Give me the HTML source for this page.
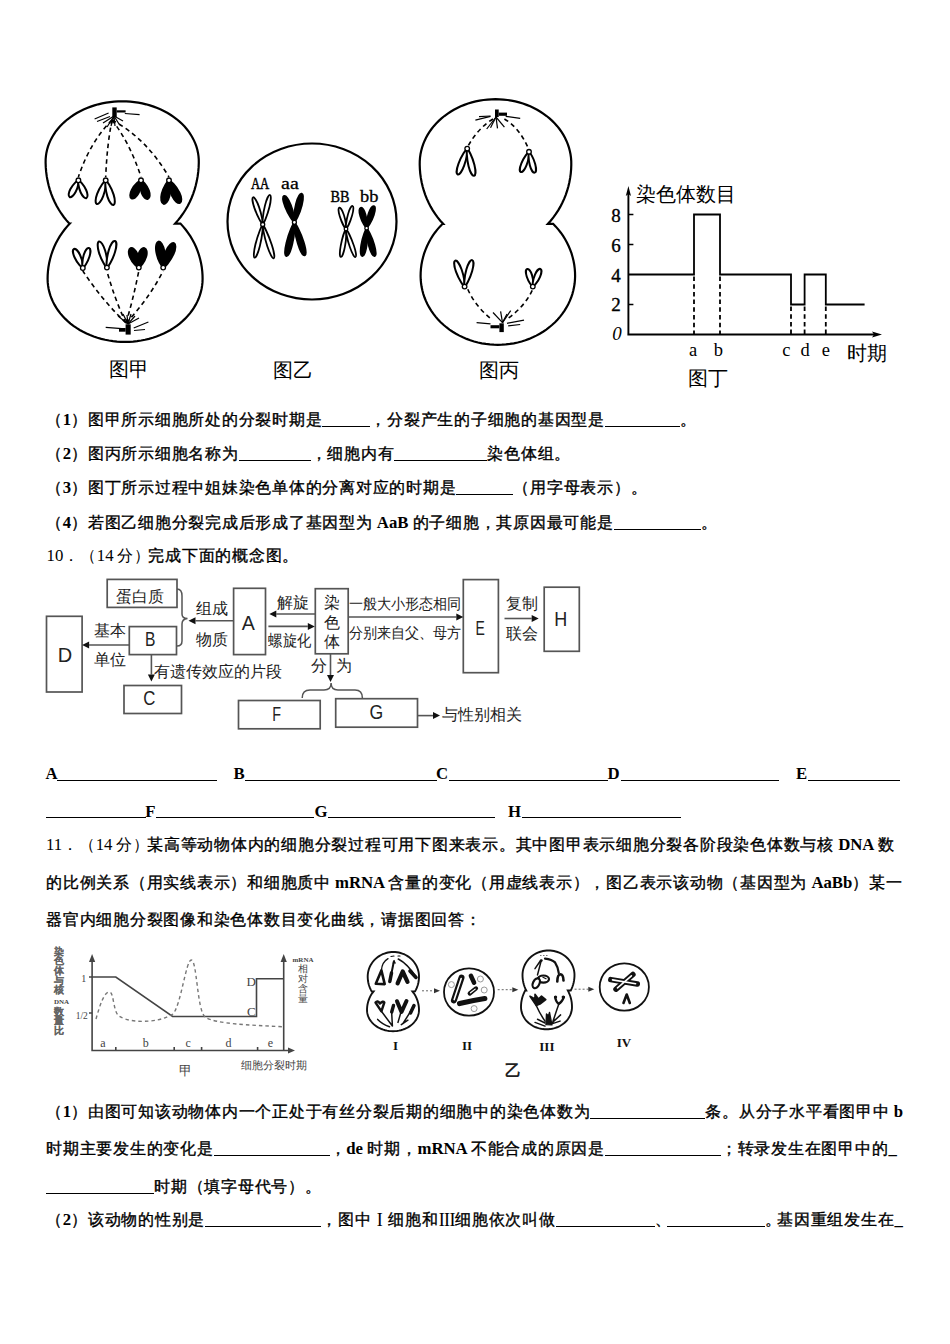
<!DOCTYPE html><html><head><meta charset="utf-8"><title>page</title><style>
html,body{margin:0;padding:0;background:#fff}
body{width:950px;height:1344px;position:relative;overflow:hidden;font-family:"Liberation Serif",serif;color:#000}
.t{position:absolute;left:46px;white-space:nowrap;font-size:16px;letter-spacing:0.75px;line-height:20px;font-weight:normal;-webkit-text-stroke:0.35px #000}
.L{font-size:16.75px;letter-spacing:0;font-weight:bold;-webkit-text-stroke:0}
.n{font-weight:normal;-webkit-text-stroke:0}
.u{display:inline-block;height:16px;border-bottom:1.5px solid #000;vertical-align:-2px;letter-spacing:0}
.j{width:856px;white-space:normal;text-align:justify;text-align-last:justify}
.jn{white-space:nowrap}
.ab{position:absolute;font-size:16.75px;font-weight:bold;line-height:20px}
.ul{position:absolute;height:0;border-top:1.5px solid #000}
svg{position:absolute;left:0;top:0}
.cm{font-family:"Liberation Sans",sans-serif;fill:#222}
</style></head><body><svg width="950" height="1344" viewBox="0 0 950 1344"><path d="M 69.34 223.60 L 66.49 220.38 L 63.79 217.00 L 61.25 213.47 L 58.88 209.78 L 56.69 205.97 L 54.68 202.02 L 52.86 197.97 L 51.24 193.81 L 49.81 189.57 L 48.59 185.24 L 47.57 180.85 L 46.76 176.40 L 46.17 171.92 L 45.78 167.40 L 45.61 162.86 L 45.65 159.27 L 45.91 156.10 L 46.38 152.93 L 47.06 149.80 L 47.95 146.69 L 49.05 143.63 L 50.36 140.61 L 51.86 137.66 L 53.57 134.77 L 55.46 131.95 L 57.54 129.22 L 59.80 126.58 L 62.24 124.04 L 64.84 121.60 L 67.61 119.27 L 70.52 117.06 L 73.58 114.98 L 76.78 113.02 L 80.11 111.20 L 83.55 109.53 L 87.10 107.99 L 90.75 106.61 L 94.48 105.38 L 98.30 104.31 L 102.18 103.39 L 106.12 102.64 L 110.10 102.06 L 114.11 101.64 L 118.15 101.38 L 122.20 101.30 L 126.25 101.38 L 130.29 101.64 L 134.30 102.06 L 138.28 102.64 L 142.22 103.39 L 146.10 104.31 L 149.92 105.38 L 153.65 106.61 L 157.30 107.99 L 160.85 109.53 L 164.29 111.20 L 167.62 113.02 L 170.82 114.98 L 173.88 117.06 L 176.79 119.27 L 179.56 121.60 L 182.16 124.04 L 184.60 126.58 L 186.86 129.22 L 188.94 131.95 L 190.83 134.77 L 192.54 137.66 L 194.04 140.61 L 195.35 143.63 L 196.45 146.69 L 197.34 149.80 L 198.02 152.93 L 198.49 156.10 L 198.75 159.27 L 198.79 162.86 L 198.62 167.40 L 198.23 171.92 L 197.64 176.40 L 196.83 180.85 L 195.81 185.24 L 194.59 189.57 L 193.16 193.81 L 191.54 197.97 L 189.72 202.02 L 187.71 205.97 L 185.52 209.78 L 183.15 213.47 L 180.61 217.00 L 177.91 220.38 L 175.06 223.60 L 180.44 223.60 L 183.19 226.60 L 185.78 229.75 L 188.21 233.03 L 190.47 236.43 L 192.55 239.95 L 194.45 243.57 L 196.16 247.29 L 197.67 251.09 L 198.99 254.97 L 200.11 258.91 L 201.02 262.91 L 201.73 266.95 L 202.23 271.02 L 202.52 275.11 L 202.60 279.11 L 202.47 282.41 L 202.12 285.69 L 201.57 288.95 L 200.81 292.19 L 199.85 295.39 L 198.68 298.54 L 197.31 301.64 L 195.75 304.68 L 193.99 307.65 L 192.05 310.54 L 189.92 313.34 L 187.62 316.05 L 185.15 318.66 L 182.51 321.15 L 179.72 323.54 L 176.78 325.80 L 173.70 327.93 L 170.49 329.93 L 167.15 331.79 L 163.70 333.50 L 160.15 335.07 L 156.50 336.48 L 152.76 337.74 L 148.95 338.83 L 145.08 339.76 L 141.15 340.53 L 137.17 341.13 L 133.17 341.56 L 129.14 341.81 L 125.10 341.90 L 121.06 341.81 L 117.03 341.56 L 113.03 341.13 L 109.05 340.53 L 105.12 339.76 L 101.25 338.83 L 97.44 337.74 L 93.70 336.48 L 90.05 335.07 L 86.50 333.50 L 83.05 331.79 L 79.71 329.93 L 76.50 327.93 L 73.42 325.80 L 70.48 323.54 L 67.69 321.15 L 65.05 318.66 L 62.58 316.05 L 60.28 313.34 L 58.15 310.54 L 56.21 307.65 L 54.45 304.68 L 52.89 301.64 L 51.52 298.54 L 50.35 295.39 L 49.39 292.19 L 48.63 288.95 L 48.08 285.69 L 47.73 282.41 L 47.60 279.11 L 47.68 275.11 L 47.97 271.02 L 48.47 266.95 L 49.18 262.91 L 50.09 258.91 L 51.21 254.97 L 52.53 251.09 L 54.04 247.29 L 55.75 243.57 L 57.65 239.95 L 59.73 236.43 L 61.99 233.03 L 64.42 229.75 L 67.01 226.60 L 69.76 223.60 Z" fill="none" stroke="#000" stroke-width="2.2" stroke-linejoin="miter"/><rect x="112.3" y="107.4" width="4.4" height="9.6" fill="#000"/><rect x="116.7" y="110.3" width="8.9" height="2.2" fill="#000"/><line x1="94.6" y1="119" x2="108.6" y2="113" stroke="#000" stroke-width="1.2"/><line x1="97" y1="121.5" x2="110" y2="116.5" stroke="#000" stroke-width="1.2"/><line x1="124.8" y1="113.5" x2="139.6" y2="114.7" stroke="#000" stroke-width="1.2"/><line x1="114" y1="116" x2="103" y2="123" stroke="#000" stroke-width="1.2"/><line x1="114" y1="116" x2="107" y2="127" stroke="#000" stroke-width="1.2"/><line x1="114" y1="116" x2="111" y2="126" stroke="#000" stroke-width="1.2"/><line x1="114" y1="116" x2="115" y2="126" stroke="#000" stroke-width="1.2"/><line x1="114" y1="116" x2="119" y2="124" stroke="#000" stroke-width="1.2"/><line x1="114" y1="116" x2="123" y2="121" stroke="#000" stroke-width="1.2"/><rect x="125.6" y="324.3" width="5.1" height="10.3" fill="#000"/><rect x="119" y="328" width="6.6" height="3.7" fill="#000"/><line x1="105.7" y1="327.3" x2="121.9" y2="328.7" stroke="#000" stroke-width="1.2"/><line x1="133.7" y1="328" x2="148.4" y2="322" stroke="#000" stroke-width="1.2"/><line x1="134" y1="330.5" x2="145" y2="329.5" stroke="#000" stroke-width="1.2"/><line x1="128" y1="324" x2="118" y2="316" stroke="#000" stroke-width="1.2"/><line x1="128" y1="324" x2="123" y2="314" stroke="#000" stroke-width="1.2"/><line x1="128" y1="324" x2="127" y2="315" stroke="#000" stroke-width="1.2"/><line x1="128" y1="324" x2="131" y2="314" stroke="#000" stroke-width="1.2"/><line x1="128" y1="324" x2="135" y2="316" stroke="#000" stroke-width="1.2"/><line x1="128" y1="324" x2="139" y2="318" stroke="#000" stroke-width="1.2"/><path d="M 112 120 Q 90 142 78.4 177" fill="none" stroke="#000" stroke-width="1.6" stroke-dasharray="4.5 3.5"/><path d="M 112 120 Q 107 145 105.7 177" fill="none" stroke="#000" stroke-width="1.6" stroke-dasharray="4.5 3.5"/><path d="M 112 120 Q 130 143 141 177" fill="none" stroke="#000" stroke-width="1.6" stroke-dasharray="4.5 3.5"/><path d="M 112 120 Q 146 138 169 177" fill="none" stroke="#000" stroke-width="1.6" stroke-dasharray="4.5 3.5"/><path d="M 126 323 Q 102 300 82.8 271" fill="none" stroke="#000" stroke-width="1.6" stroke-dasharray="4.5 3.5"/><path d="M 126 323 Q 115 300 106.9 271" fill="none" stroke="#000" stroke-width="1.6" stroke-dasharray="4.5 3.5"/><path d="M 126 323 Q 133 300 138.8 271" fill="none" stroke="#000" stroke-width="1.6" stroke-dasharray="4.5 3.5"/><path d="M 126 323 Q 148 300 163.2 271" fill="none" stroke="#000" stroke-width="1.6" stroke-dasharray="4.5 3.5"/><path transform="translate(78.4,180.3) rotate(27.8)" d="M 0 0 C 0.90 0.76 3.00 5.66 3.00 11.70 A 3.00 7.17 0 0 1 -3.00 11.70 C -3.00 5.66 -0.90 0.76 0 0 Z" fill="#fff" stroke="#000" stroke-width="2.0" stroke-linejoin="round"/><path transform="translate(78.4,180.3) rotate(-24.6)" d="M 0 0 C 0.90 0.78 3.00 5.84 3.00 12.07 A 3.00 7.40 0 0 1 -3.00 12.07 C -3.00 5.84 -0.90 0.78 0 0 Z" fill="#fff" stroke="#000" stroke-width="2.0" stroke-linejoin="round"/><circle cx="78.4" cy="180.3" r="2.3" fill="#fff" stroke="#000" stroke-width="1.3"/><path transform="translate(105.7,180.3) rotate(20.6)" d="M 0 0 C 0.97 1.01 3.25 7.59 3.25 15.70 A 3.25 9.62 0 0 1 -3.25 15.70 C -3.25 7.59 -0.97 1.01 0 0 Z" fill="#fff" stroke="#000" stroke-width="2.0" stroke-linejoin="round"/><path transform="translate(105.7,180.3) rotate(-17.5)" d="M 0 0 C 0.97 1.04 3.25 7.77 3.25 16.06 A 3.25 9.84 0 0 1 -3.25 16.06 C -3.25 7.77 -0.97 1.04 0 0 Z" fill="#fff" stroke="#000" stroke-width="2.0" stroke-linejoin="round"/><circle cx="105.7" cy="180.3" r="2.3" fill="#fff" stroke="#000" stroke-width="1.3"/><path transform="translate(141.0,180.3) rotate(27.6)" d="M 0 0 C 1.17 0.82 3.90 6.16 3.90 12.73 A 3.90 7.80 0 0 1 -3.90 12.73 C -3.90 6.16 -1.17 0.82 0 0 Z" fill="#000" stroke="#000" stroke-width="1.7" stroke-linejoin="round"/><path transform="translate(141.0,180.3) rotate(-20.5)" d="M 0 0 C 1.17 0.80 3.90 5.99 3.90 12.38 A 3.90 7.59 0 0 1 -3.90 12.38 C -3.90 5.99 -1.17 0.80 0 0 Z" fill="#000" stroke="#000" stroke-width="1.7" stroke-linejoin="round"/><circle cx="141" cy="180.3" r="2.3" fill="#fff" stroke="#000" stroke-width="1.3"/><path transform="translate(169.0,180.3) rotate(13.1)" d="M 0 0 C 1.25 0.97 4.15 7.30 4.15 15.08 A 4.15 9.25 0 0 1 -4.15 15.08 C -4.15 7.30 -1.25 0.97 0 0 Z" fill="#000" stroke="#000" stroke-width="1.7" stroke-linejoin="round"/><path transform="translate(169.0,180.3) rotate(-25.9)" d="M 0 0 C 1.25 1.01 4.15 7.57 4.15 15.64 A 4.15 9.59 0 0 1 -4.15 15.64 C -4.15 7.57 -1.25 1.01 0 0 Z" fill="#000" stroke="#000" stroke-width="1.7" stroke-linejoin="round"/><circle cx="169" cy="180.3" r="2.3" fill="#fff" stroke="#000" stroke-width="1.3"/><path transform="translate(82.8,268.0) rotate(155.1)" d="M 0 0 C 0.90 0.84 3.00 6.28 3.00 12.98 A 3.00 7.96 0 0 1 -3.00 12.98 C -3.00 6.28 -0.90 0.84 0 0 Z" fill="#fff" stroke="#000" stroke-width="2.0" stroke-linejoin="round"/><path transform="translate(82.8,268.0) rotate(-162.8)" d="M 0 0 C 0.90 0.84 3.00 6.28 3.00 12.98 A 3.00 7.96 0 0 1 -3.00 12.98 C -3.00 6.28 -0.90 0.84 0 0 Z" fill="#fff" stroke="#000" stroke-width="2.0" stroke-linejoin="round"/><circle cx="82.8" cy="268" r="2.3" fill="#fff" stroke="#000" stroke-width="1.3"/><path transform="translate(106.9,267.6) rotate(163.2)" d="M 0 0 C 0.97 1.09 3.25 8.18 3.25 16.91 A 3.25 10.36 0 0 1 -3.25 16.91 C -3.25 8.18 -0.97 1.09 0 0 Z" fill="#fff" stroke="#000" stroke-width="2.0" stroke-linejoin="round"/><path transform="translate(106.9,267.6) rotate(-163.1)" d="M 0 0 C 0.97 1.11 3.25 8.34 3.25 17.24 A 3.25 10.57 0 0 1 -3.25 17.24 C -3.25 8.34 -0.97 1.11 0 0 Z" fill="#fff" stroke="#000" stroke-width="2.0" stroke-linejoin="round"/><circle cx="106.9" cy="267.6" r="2.3" fill="#fff" stroke="#000" stroke-width="1.3"/><path transform="translate(138.8,267.6) rotate(157.0)" d="M 0 0 C 1.25 0.85 4.15 6.39 4.15 13.20 A 4.15 8.09 0 0 1 -4.15 13.20 C -4.15 6.39 -1.25 0.85 0 0 Z" fill="#000" stroke="#000" stroke-width="1.7" stroke-linejoin="round"/><path transform="translate(138.8,267.6) rotate(-163.8)" d="M 0 0 C 1.25 0.82 4.15 6.12 4.15 12.66 A 4.15 7.76 0 0 1 -4.15 12.66 C -4.15 6.12 -1.25 0.82 0 0 Z" fill="#000" stroke="#000" stroke-width="1.7" stroke-linejoin="round"/><circle cx="138.8" cy="267.6" r="2.3" fill="#fff" stroke="#000" stroke-width="1.3"/><path transform="translate(163.2,267.6) rotate(169.8)" d="M 0 0 C 1.25 1.06 4.15 7.96 4.15 16.44 A 4.15 10.08 0 0 1 -4.15 16.44 C -4.15 7.96 -1.25 1.06 0 0 Z" fill="#000" stroke="#000" stroke-width="1.7" stroke-linejoin="round"/><path transform="translate(163.2,267.6) rotate(-156.3)" d="M 0 0 C 1.25 1.07 4.15 8.06 4.15 16.66 A 4.15 10.21 0 0 1 -4.15 16.66 C -4.15 8.06 -1.25 1.07 0 0 Z" fill="#000" stroke="#000" stroke-width="1.7" stroke-linejoin="round"/><circle cx="163.2" cy="267.6" r="2.3" fill="#fff" stroke="#000" stroke-width="1.3"/><ellipse cx="312" cy="221.5" rx="84.5" ry="78" fill="none" stroke="#000" stroke-width="2.2"/><path transform="translate(262.7,224.5) rotate(160.6)" d="M 0 0 C 0.70 1.15 2.35 8.65 2.35 17.88 A 2.35 10.96 0 0 1 -2.35 17.88 C -2.35 8.65 -0.70 1.15 0 0 Z" fill="#fff" stroke="#000" stroke-width="1.8" stroke-linejoin="round"/><path transform="translate(262.7,224.5) rotate(-166.1)" d="M 0 0 C 0.70 1.22 2.35 9.12 2.35 18.84 A 2.35 11.55 0 0 1 -2.35 18.84 C -2.35 9.12 -0.70 1.22 0 0 Z" fill="#fff" stroke="#000" stroke-width="1.8" stroke-linejoin="round"/><path transform="translate(262.7,224.5) rotate(13.7)" d="M 0 0 C 0.70 1.37 2.35 10.25 2.35 21.19 A 2.35 12.99 0 0 1 -2.35 21.19 C -2.35 10.25 -0.70 1.37 0 0 Z" fill="#fff" stroke="#000" stroke-width="1.8" stroke-linejoin="round"/><path transform="translate(262.7,224.5) rotate(-18.0)" d="M 0 0 C 0.70 1.43 2.35 10.69 2.35 22.10 A 2.35 13.54 0 0 1 -2.35 22.10 C -2.35 10.69 -0.70 1.43 0 0 Z" fill="#fff" stroke="#000" stroke-width="1.8" stroke-linejoin="round"/><circle cx="262.7" cy="224.5" r="2.0" fill="#fff" stroke="#000" stroke-width="1.3"/><path transform="translate(294.4,222.3) rotate(158.6)" d="M 0 0 C 0.93 1.14 3.10 8.54 3.10 17.65 A 3.10 10.82 0 0 1 -3.10 17.65 C -3.10 8.54 -0.93 1.14 0 0 Z" fill="#000" stroke="#000" stroke-width="1.6" stroke-linejoin="round"/><path transform="translate(294.4,222.3) rotate(-165.7)" d="M 0 0 C 0.93 1.18 3.10 8.88 3.10 18.36 A 3.10 11.25 0 0 1 -3.10 18.36 C -3.10 8.88 -0.93 1.18 0 0 Z" fill="#000" stroke="#000" stroke-width="1.6" stroke-linejoin="round"/><path transform="translate(294.4,222.3) rotate(13.4)" d="M 0 0 C 0.93 1.39 3.10 10.46 3.10 21.61 A 3.10 13.24 0 0 1 -3.10 21.61 C -3.10 10.46 -0.93 1.39 0 0 Z" fill="#000" stroke="#000" stroke-width="1.6" stroke-linejoin="round"/><path transform="translate(294.4,222.3) rotate(-17.2)" d="M 0 0 C 0.93 1.39 3.10 10.43 3.10 21.55 A 3.10 13.21 0 0 1 -3.10 21.55 C -3.10 10.43 -0.93 1.39 0 0 Z" fill="#000" stroke="#000" stroke-width="1.6" stroke-linejoin="round"/><circle cx="294.4" cy="222.3" r="2.0" fill="#fff" stroke="#000" stroke-width="1.3"/><path transform="translate(346.0,229.0) rotate(162.6)" d="M 0 0 C 0.64 0.90 2.15 6.73 2.15 13.90 A 2.15 8.52 0 0 1 -2.15 13.90 C -2.15 6.73 -0.64 0.90 0 0 Z" fill="#fff" stroke="#000" stroke-width="1.7" stroke-linejoin="round"/><path transform="translate(346.0,229.0) rotate(-164.0)" d="M 0 0 C 0.64 0.96 2.15 7.18 2.15 14.84 A 2.15 9.09 0 0 1 -2.15 14.84 C -2.15 7.18 -0.64 0.96 0 0 Z" fill="#fff" stroke="#000" stroke-width="1.7" stroke-linejoin="round"/><path transform="translate(346.0,229.0) rotate(10.5)" d="M 0 0 C 0.64 1.14 2.15 8.54 2.15 17.66 A 2.15 10.82 0 0 1 -2.15 17.66 C -2.15 8.54 -0.64 1.14 0 0 Z" fill="#fff" stroke="#000" stroke-width="1.7" stroke-linejoin="round"/><path transform="translate(346.0,229.0) rotate(-18.7)" d="M 0 0 C 0.64 1.18 2.15 8.87 2.15 18.33 A 2.15 11.24 0 0 1 -2.15 18.33 C -2.15 8.87 -0.64 1.18 0 0 Z" fill="#fff" stroke="#000" stroke-width="1.7" stroke-linejoin="round"/><circle cx="346" cy="229" r="1.8" fill="#fff" stroke="#000" stroke-width="1.3"/><path transform="translate(366.6,228.2) rotate(164.0)" d="M 0 0 C 0.85 0.86 2.85 6.43 2.85 13.29 A 2.85 8.14 0 0 1 -2.85 13.29 C -2.85 6.43 -0.85 0.86 0 0 Z" fill="#000" stroke="#000" stroke-width="1.5" stroke-linejoin="round"/><path transform="translate(366.6,228.2) rotate(-161.6)" d="M 0 0 C 0.85 0.94 2.85 7.02 2.85 14.51 A 2.85 8.89 0 0 1 -2.85 14.51 C -2.85 7.02 -0.85 0.94 0 0 Z" fill="#000" stroke="#000" stroke-width="1.5" stroke-linejoin="round"/><path transform="translate(366.6,228.2) rotate(8.9)" d="M 0 0 C 0.85 1.13 2.85 8.50 2.85 17.57 A 2.85 10.77 0 0 1 -2.85 17.57 C -2.85 8.50 -0.85 1.13 0 0 Z" fill="#000" stroke="#000" stroke-width="1.5" stroke-linejoin="round"/><path transform="translate(366.6,228.2) rotate(-16.1)" d="M 0 0 C 0.85 1.17 2.85 8.74 2.85 18.07 A 2.85 11.08 0 0 1 -2.85 18.07 C -2.85 8.74 -0.85 1.17 0 0 Z" fill="#000" stroke="#000" stroke-width="1.5" stroke-linejoin="round"/><circle cx="366.6" cy="228.2" r="1.8" fill="#fff" stroke="#000" stroke-width="1.3"/><path d="M 443.14 223.80 L 440.31 220.67 L 437.64 217.38 L 435.14 213.94 L 432.80 210.36 L 430.64 206.65 L 428.65 202.82 L 426.86 198.88 L 425.26 194.84 L 423.85 190.71 L 422.64 186.51 L 421.64 182.24 L 420.84 177.92 L 420.25 173.56 L 419.88 169.17 L 419.71 164.77 L 419.75 161.08 L 420.01 157.69 L 420.48 154.31 L 421.16 150.96 L 422.04 147.64 L 423.13 144.37 L 424.42 141.16 L 425.91 138.00 L 427.60 134.92 L 429.48 131.92 L 431.53 129.00 L 433.77 126.18 L 436.18 123.47 L 438.76 120.86 L 441.50 118.38 L 444.38 116.02 L 447.41 113.80 L 450.57 111.71 L 453.86 109.77 L 457.27 107.98 L 460.78 106.34 L 464.39 104.87 L 468.09 103.55 L 471.86 102.41 L 475.70 101.43 L 479.59 100.63 L 483.53 100.01 L 487.50 99.56 L 491.49 99.29 L 495.50 99.20 L 499.51 99.29 L 503.50 99.56 L 507.47 100.01 L 511.41 100.63 L 515.30 101.43 L 519.14 102.41 L 522.91 103.55 L 526.61 104.87 L 530.22 106.34 L 533.73 107.98 L 537.14 109.77 L 540.43 111.71 L 543.59 113.80 L 546.62 116.02 L 549.50 118.38 L 552.24 120.86 L 554.82 123.47 L 557.23 126.18 L 559.47 129.00 L 561.52 131.92 L 563.40 134.92 L 565.09 138.00 L 566.58 141.16 L 567.87 144.37 L 568.96 147.64 L 569.84 150.96 L 570.52 154.31 L 570.99 157.69 L 571.25 161.08 L 571.29 164.77 L 571.12 169.17 L 570.75 173.56 L 570.16 177.92 L 569.36 182.24 L 568.36 186.51 L 567.15 190.71 L 565.74 194.84 L 564.14 198.88 L 562.35 202.82 L 560.36 206.65 L 558.20 210.36 L 555.86 213.94 L 553.36 217.38 L 550.69 220.67 L 547.86 223.80 L 553.10 223.80 L 555.84 226.64 L 558.42 229.62 L 560.83 232.72 L 563.07 235.94 L 565.14 239.26 L 567.03 242.69 L 568.72 246.20 L 570.23 249.80 L 571.54 253.46 L 572.64 257.19 L 573.55 260.96 L 574.25 264.78 L 574.74 268.63 L 575.02 272.50 L 575.10 276.33 L 574.96 279.92 L 574.62 283.50 L 574.06 287.06 L 573.30 290.59 L 572.34 294.08 L 571.17 297.52 L 569.81 300.91 L 568.24 304.22 L 566.49 307.45 L 564.55 310.61 L 562.43 313.66 L 560.14 316.61 L 557.67 319.46 L 555.05 322.18 L 552.26 324.78 L 549.33 327.24 L 546.27 329.57 L 543.06 331.75 L 539.74 333.77 L 536.30 335.64 L 532.76 337.35 L 529.13 338.89 L 525.40 340.26 L 521.61 341.46 L 517.75 342.47 L 513.83 343.31 L 509.88 343.96 L 505.89 344.43 L 501.87 344.71 L 497.85 344.80 L 493.83 344.71 L 489.81 344.43 L 485.82 343.96 L 481.87 343.31 L 477.95 342.47 L 474.09 341.46 L 470.30 340.26 L 466.57 338.89 L 462.94 337.35 L 459.40 335.64 L 455.96 333.77 L 452.64 331.75 L 449.43 329.57 L 446.37 327.24 L 443.44 324.78 L 440.65 322.18 L 438.03 319.46 L 435.56 316.61 L 433.27 313.66 L 431.15 310.61 L 429.21 307.45 L 427.46 304.22 L 425.89 300.91 L 424.53 297.52 L 423.36 294.08 L 422.40 290.59 L 421.64 287.06 L 421.08 283.50 L 420.74 279.92 L 420.60 276.33 L 420.68 272.50 L 420.96 268.63 L 421.45 264.78 L 422.15 260.96 L 423.06 257.19 L 424.16 253.46 L 425.47 249.80 L 426.98 246.20 L 428.67 242.69 L 430.56 239.26 L 432.63 235.94 L 434.87 232.72 L 437.28 229.62 L 439.86 226.64 L 442.60 223.80 Z" fill="none" stroke="#000" stroke-width="2.2" stroke-linejoin="miter"/><rect x="495" y="109.5" width="3.7" height="7.5" fill="#000"/><rect x="498.7" y="112.6" width="8.3" height="3.2" fill="#000"/><line x1="475.4" y1="120.2" x2="490.5" y2="116.4" stroke="#000" stroke-width="1.2"/><line x1="479" y1="116.6" x2="490.5" y2="116" stroke="#000" stroke-width="1.2"/><line x1="505.7" y1="116.4" x2="520.2" y2="118.3" stroke="#000" stroke-width="1.2"/><line x1="496" y1="117" x2="486.7" y2="129" stroke="#000" stroke-width="1.2"/><line x1="496" y1="117" x2="490.5" y2="127.8" stroke="#000" stroke-width="1.2"/><line x1="496" y1="117" x2="497.5" y2="128.4" stroke="#000" stroke-width="1.2"/><line x1="496" y1="117" x2="504.4" y2="127.2" stroke="#000" stroke-width="1.2"/><rect x="499.4" y="323.3" width="4.4" height="8.8" fill="#000"/><rect x="490.5" y="325.2" width="8.9" height="3.1" fill="#000"/><line x1="476.6" y1="322.6" x2="490.5" y2="323.9" stroke="#000" stroke-width="1.2"/><line x1="508.2" y1="325.8" x2="520.2" y2="324.5" stroke="#000" stroke-width="1.2"/><line x1="507" y1="323.3" x2="524" y2="320.1" stroke="#000" stroke-width="1.2"/><line x1="502.5" y1="322.6" x2="493" y2="312.5" stroke="#000" stroke-width="1.2"/><line x1="502.5" y1="322.6" x2="500.6" y2="311.3" stroke="#000" stroke-width="1.2"/><line x1="502.5" y1="322.6" x2="510.7" y2="310.6" stroke="#000" stroke-width="1.2"/><line x1="502.5" y1="322.6" x2="507" y2="314" stroke="#000" stroke-width="1.2"/><path d="M 493 119 Q 478 128 467.5 147" fill="none" stroke="#000" stroke-width="1.6" stroke-dasharray="4.5 3.5"/><path d="M 504.4 119 Q 520 128 529 150" fill="none" stroke="#000" stroke-width="1.6" stroke-dasharray="4.5 3.5"/><path d="M 467.8 289.2 Q 475 306 491.8 319.5" fill="none" stroke="#000" stroke-width="1.6" stroke-dasharray="4.5 3.5"/><path d="M 532.2 290.4 Q 525 306 508.2 318.2" fill="none" stroke="#000" stroke-width="1.6" stroke-dasharray="4.5 3.5"/><path transform="translate(467.2,148.6) rotate(20.1)" d="M 0 0 C 0.90 1.10 3.00 8.28 3.00 17.10 A 3.00 10.48 0 0 1 -3.00 17.10 C -3.00 8.28 -0.90 1.10 0 0 Z" fill="#fff" stroke="#000" stroke-width="2.0" stroke-linejoin="round"/><path transform="translate(467.2,148.6) rotate(-14.2)" d="M 0 0 C 0.90 1.12 3.00 8.42 3.00 17.40 A 3.00 10.66 0 0 1 -3.00 17.40 C -3.00 8.42 -0.90 1.12 0 0 Z" fill="#fff" stroke="#000" stroke-width="2.0" stroke-linejoin="round"/><circle cx="467.2" cy="148.6" r="2.3" fill="#fff" stroke="#000" stroke-width="1.3"/><path transform="translate(529.0,151.8) rotate(22.1)" d="M 0 0 C 0.82 0.87 2.75 6.54 2.75 13.52 A 2.75 8.28 0 0 1 -2.75 13.52 C -2.75 6.54 -0.82 0.87 0 0 Z" fill="#fff" stroke="#000" stroke-width="2.0" stroke-linejoin="round"/><path transform="translate(529.0,151.8) rotate(-15.3)" d="M 0 0 C 0.82 0.86 2.75 6.47 2.75 13.37 A 2.75 8.20 0 0 1 -2.75 13.37 C -2.75 6.47 -0.82 0.86 0 0 Z" fill="#fff" stroke="#000" stroke-width="2.0" stroke-linejoin="round"/><circle cx="529" cy="151.8" r="2.3" fill="#fff" stroke="#000" stroke-width="1.3"/><path transform="translate(464.6,286.6) rotate(160.1)" d="M 0 0 C 0.90 1.10 3.00 8.27 3.00 17.08 A 3.00 10.47 0 0 1 -3.00 17.08 C -3.00 8.27 -0.90 1.10 0 0 Z" fill="#fff" stroke="#000" stroke-width="2.0" stroke-linejoin="round"/><path transform="translate(464.6,286.6) rotate(-164.0)" d="M 0 0 C 0.90 1.10 3.00 8.27 3.00 17.09 A 3.00 10.48 0 0 1 -3.00 17.09 C -3.00 8.27 -0.90 1.10 0 0 Z" fill="#fff" stroke="#000" stroke-width="2.0" stroke-linejoin="round"/><circle cx="464.6" cy="286.6" r="2.3" fill="#fff" stroke="#000" stroke-width="1.3"/><path transform="translate(532.8,286.6) rotate(162.3)" d="M 0 0 C 0.82 0.74 2.75 5.54 2.75 11.45 A 2.75 7.02 0 0 1 -2.75 11.45 C -2.75 5.54 -0.82 0.74 0 0 Z" fill="#fff" stroke="#000" stroke-width="2.0" stroke-linejoin="round"/><path transform="translate(532.8,286.6) rotate(-156.6)" d="M 0 0 C 0.82 0.77 2.75 5.75 2.75 11.89 A 2.75 7.28 0 0 1 -2.75 11.89 C -2.75 5.75 -0.82 0.77 0 0 Z" fill="#fff" stroke="#000" stroke-width="2.0" stroke-linejoin="round"/><circle cx="532.8" cy="286.6" r="2.3" fill="#fff" stroke="#000" stroke-width="1.3"/><path d="M 628.4 334.5 V 192 M 627.4 334.5 H 876" stroke="#000" stroke-width="1.9" fill="none"/><path d="M 625.8 196 L 628.4 186 L 631.0 196 L 628.4 194 Z" fill="#000"/><path d="M 872 331.5 L 882 334.5 L 872 337.5 L 874 334.5 Z" fill="#000"/><path d="M 628.4 214.5 h 5 M 628.4 244.5 h 5 M 628.4 304.5 h 5" stroke="#000" stroke-width="1.6"/><path d="M 628.4 274.5 H 694 V 214.5 H 720 V 274.5 H 791 V 304.5 H 804.6 V 274.5 H 825.8 V 304.5 H 864.6" stroke="#000" stroke-width="1.8" fill="none"/><line x1="694" y1="276.5" x2="694" y2="334.5" stroke="#000" stroke-width="1.8" stroke-dasharray="4.5 3.2"/><line x1="720" y1="276.5" x2="720" y2="334.5" stroke="#000" stroke-width="1.8" stroke-dasharray="4.5 3.2"/><line x1="791" y1="306.5" x2="791" y2="334.5" stroke="#000" stroke-width="1.8" stroke-dasharray="4.5 3.2"/><line x1="804.6" y1="306.5" x2="804.6" y2="334.5" stroke="#000" stroke-width="1.8" stroke-dasharray="4.5 3.2"/><line x1="825.8" y1="306.5" x2="825.8" y2="334.5" stroke="#000" stroke-width="1.8" stroke-dasharray="4.5 3.2"/><text x="616" y="222.4" font-size="19" text-anchor="middle" font-family="Liberation Serif" stroke="#000" stroke-width="0.35">8</text><text x="616" y="252.4" font-size="19" text-anchor="middle" font-family="Liberation Serif" stroke="#000" stroke-width="0.35">6</text><text x="616" y="282.4" font-size="19" text-anchor="middle" font-family="Liberation Serif" stroke="#000" stroke-width="0.35">4</text><text x="616" y="310.8" font-size="19" text-anchor="middle" font-family="Liberation Serif" stroke="#000" stroke-width="0.35">2</text><text x="617" y="339.5" font-size="19" text-anchor="middle" font-family="Liberation Serif" font-style="italic">0</text><text x="693" y="355.5" font-size="18.5" text-anchor="middle" font-family="Liberation Serif">a</text><text x="718.3" y="355.5" font-size="18.5" text-anchor="middle" font-family="Liberation Serif">b</text><text x="786.3" y="355.5" font-size="18.5" text-anchor="middle" font-family="Liberation Serif">c</text><text x="805.2" y="355.5" font-size="18.5" text-anchor="middle" font-family="Liberation Serif">d</text><text x="825.8" y="355.5" font-size="18.5" text-anchor="middle" font-family="Liberation Serif">e</text><text x="866.9" y="360" font-size="20" text-anchor="middle" >时期</text><text x="686" y="201" font-size="20" text-anchor="middle" >染色体数目</text><text x="708.2" y="385" font-size="20" text-anchor="middle" >图丁</text><text x="128.5" y="376" font-size="19.5" text-anchor="middle" >图甲</text><text x="293.1" y="376.5" font-size="19.5" text-anchor="middle" >图乙</text><text x="498.8" y="376.5" font-size="19.5" text-anchor="middle" >图丙</text><text x="250.9" y="189.2" font-size="17.5" text-anchor="start" font-family="Liberation Serif" textLength="18.4" lengthAdjust="spacingAndGlyphs" stroke="#000" stroke-width="0.5">AA</text><text x="281.1" y="189.2" font-size="17.5" text-anchor="start" font-family="Liberation Serif" textLength="17.7" lengthAdjust="spacingAndGlyphs" stroke="#000" stroke-width="0.3">aa</text><text x="330.5" y="201.7" font-size="17.5" text-anchor="start" font-family="Liberation Serif" textLength="19.1" lengthAdjust="spacingAndGlyphs" stroke="#000" stroke-width="0.4">BB</text><text x="360" y="201.7" font-size="17.5" text-anchor="start" font-family="Liberation Serif" textLength="18.4" lengthAdjust="spacingAndGlyphs" stroke="#000" stroke-width="0.3">bb</text><rect x="107.2" y="579.4" width="69.8" height="28.0" fill="none" stroke="#555" stroke-width="1.7"/><rect x="46.5" y="616.3" width="35.6" height="75.7" fill="none" stroke="#555" stroke-width="1.7"/><rect x="129.3" y="626.6" width="47.2" height="28.0" fill="none" stroke="#555" stroke-width="1.7"/><rect x="124" y="685.5" width="57.5" height="28.0" fill="none" stroke="#555" stroke-width="1.7"/><rect x="233.6" y="588.3" width="31.9" height="66.3" fill="none" stroke="#555" stroke-width="1.7"/><rect x="315.3" y="588.7" width="32.9" height="65.1" fill="none" stroke="#555" stroke-width="1.7"/><rect x="463.3" y="579.6" width="35.1" height="93.1" fill="none" stroke="#555" stroke-width="1.7"/><rect x="544.2" y="587.2" width="35.1" height="64.1" fill="none" stroke="#555" stroke-width="1.7"/><rect x="238.5" y="700.5" width="81.7" height="28.3" fill="none" stroke="#555" stroke-width="1.7"/><rect x="335.7" y="698.7" width="81.8" height="28.5" fill="none" stroke="#555" stroke-width="1.7"/><line x1="233.6" y1="620.7" x2="195.5" y2="620.7" stroke="#555" stroke-width="1.6"/><path d="M 188.5 620.7 L 195.5 617.2 L 195.5 624.2 Z" fill="#111"/><line x1="129.3" y1="645" x2="89.1" y2="645.0" stroke="#555" stroke-width="1.6"/><path d="M 82.1 645 L 89.1 641.5 L 89.1 648.5 Z" fill="#111"/><line x1="151.4" y1="654.6" x2="151.4" y2="674.5" stroke="#555" stroke-width="1.6"/><path d="M 151.4 681.5 L 147.9 674.5 L 154.9 674.5 Z" fill="#111"/><line x1="315.3" y1="614" x2="276.3" y2="614.0" stroke="#555" stroke-width="1.6"/><path d="M 269.3 614 L 276.3 610.5 L 276.3 617.5 Z" fill="#111"/><line x1="268.4" y1="626.4" x2="307.8" y2="626.4" stroke="#555" stroke-width="1.6"/><path d="M 314.8 626.4 L 307.8 629.9 L 307.8 622.9 Z" fill="#111"/><line x1="348.2" y1="617" x2="456.3" y2="617.0" stroke="#555" stroke-width="1.6"/><path d="M 463.3 617 L 456.3 620.5 L 456.3 613.5 Z" fill="#111"/><line x1="504.5" y1="618.5" x2="531.7" y2="618.5" stroke="#555" stroke-width="1.6"/><path d="M 538.7 618.5 L 531.7 622.0 L 531.7 615.0 Z" fill="#111"/><line x1="330.5" y1="653.8" x2="330.5" y2="675.0" stroke="#555" stroke-width="1.6"/><path d="M 330.5 682 L 327.0 675.0 L 334.0 675.0 Z" fill="#111"/><line x1="417.5" y1="715.6" x2="433.0" y2="715.6" stroke="#555" stroke-width="1.6"/><path d="M 440 715.6 L 433.0 719.1 L 433.0 712.1 Z" fill="#111"/><path d="M 177 589 Q 182 589 182 596 L 182 614 Q 182 618.5 187.5 618.5 Q 182 619 182 624 L 182 641 Q 182 646 177 646" fill="none" stroke="#555" stroke-width="1.5"/><path d="M 302.2 698 Q 302.2 690 310 690 L 324 690 Q 331.1 690 331.1 683 Q 331.1 690 338 690 L 355 690 Q 362.4 690 362.4 698" fill="none" stroke="#555" stroke-width="1.5"/><text class="cm" x="140" y="602" font-size="15.5" text-anchor="middle">蛋白质</text><text class="cm" x="211.5" y="614" font-size="15.5" text-anchor="middle">组成</text><text class="cm" x="211.5" y="645" font-size="15.5" text-anchor="middle">物质</text><text class="cm" x="110" y="636" font-size="15.5" text-anchor="middle">基本</text><text class="cm" x="110" y="665" font-size="15.5" text-anchor="middle">单位</text><text class="cm" x="293.2" y="608" font-size="15.5" text-anchor="middle">解旋</text><text class="cm" x="268.4" y="646" font-size="16" textLength="43" lengthAdjust="spacingAndGlyphs">螺旋化</text><text class="cm" x="217.9" y="677" font-size="15.5" text-anchor="middle">有遗传效应的片段</text><text class="cm" x="331.7" y="608" font-size="15.5" text-anchor="middle">染</text><text class="cm" x="331.7" y="628" font-size="15.5" text-anchor="middle">色</text><text class="cm" x="331.7" y="647" font-size="15.5" text-anchor="middle">体</text><text class="cm" x="348.5" y="609" font-size="14.5" textLength="113" lengthAdjust="spacingAndGlyphs">一般大小形态相同</text><text class="cm" x="348.5" y="637.5" font-size="14.5" textLength="113" lengthAdjust="spacingAndGlyphs">分别来自父、母方</text><text class="cm" x="522" y="609" font-size="15.5" text-anchor="middle">复制</text><text class="cm" x="522" y="639" font-size="15.5" text-anchor="middle">联会</text><text class="cm" x="319" y="671" font-size="15.5" text-anchor="middle">分</text><text class="cm" x="343.5" y="671" font-size="15.5" text-anchor="middle">为</text><text class="cm" x="481.6" y="720" font-size="15.5" text-anchor="middle">与性别相关</text><text class="cm" transform="translate(64.95,662.2) scale(1.0,1)" x="0" y="0" font-size="20" text-anchor="middle" fill="#222">D</text><text class="cm" transform="translate(150.15,645.7) scale(0.78,1)" x="0" y="0" font-size="20" text-anchor="middle" fill="#222">B</text><text class="cm" transform="translate(149.2,705.4) scale(0.84,1)" x="0" y="0" font-size="20" text-anchor="middle" fill="#222">C</text><text class="cm" transform="translate(248.2,629.7) scale(0.98,1)" x="0" y="0" font-size="20" text-anchor="middle" fill="#222">A</text><text class="cm" transform="translate(480.05,634.5) scale(0.7,1)" x="0" y="0" font-size="20" text-anchor="middle" fill="#222">E</text><text class="cm" transform="translate(560.85,626.3) scale(0.9,1)" x="0" y="0" font-size="20" text-anchor="middle" fill="#222">H</text><text class="cm" transform="translate(276.7,721.4) scale(0.72,1)" x="0" y="0" font-size="20" text-anchor="middle" fill="#222">F</text><text class="cm" transform="translate(376.25,718.8) scale(0.88,1)" x="0" y="0" font-size="20" text-anchor="middle" fill="#222">G</text><rect x="0" y="0" width="0" height="0" fill="none"/><path d="M 92.1 958 V 1050.5 H 290 M 283.7 958 V 1050.5" stroke="#444" fill="none" stroke-width="1.6"/><path d="M 89 962 L 92.1 954 L 95.2 962 Z" fill="#444"/><path d="M 280.6 962 L 283.7 954 L 286.8 962 Z" fill="#444"/><path d="M 288 1047.5 L 295 1050.5 L 288 1053.5 Z" fill="#444"/><path d="M 89 977 H 92 M 89 1013 H 92 M 115.8 1050 v -3 M 174.2 1050 v -3 M 201.6 1050 v -3 M 257.6 1050 v -3" stroke="#444" fill="none" stroke-width="1.6" stroke-width="1.2"/><path d="M 92 977 L 115.8 977 L 172.6 1016.5 L 256.5 1016.5 L 256.5 978.7 L 283.7 978.7" stroke="#444" fill="none" stroke-width="1.6" stroke-width="1.8"/><path d="M 96 1019 C 100 1005 104 992 109.5 992 C 114 992 113 1012 119 1016 C 126 1021 140 1022 150 1021 C 160 1020 166 1018 173 1014 C 181 1005 186 960 191.3 960 C 197 960 197 1010 205 1017 C 215 1024 250 1025 283.7 1026.8" fill="none" stroke="#777" stroke-width="1.4" stroke-dasharray="3.5 3"/><text x="83.8" y="981.5" font-size="10" text-anchor="middle" fill="#444" font-family="Liberation Serif">1</text><text x="81.8" y="1018.5" font-size="9.5" text-anchor="middle" fill="#444" font-family="Liberation Serif">1/2</text><text x="103" y="1047" font-size="12" text-anchor="middle" fill="#444" font-family="Liberation Serif">a</text><text x="145.8" y="1047" font-size="12" text-anchor="middle" fill="#444" font-family="Liberation Serif">b</text><text x="188.2" y="1047" font-size="12" text-anchor="middle" fill="#444" font-family="Liberation Serif">c</text><text x="228.4" y="1047" font-size="12" text-anchor="middle" fill="#444" font-family="Liberation Serif">d</text><text x="270.3" y="1047" font-size="12" text-anchor="middle" fill="#444" font-family="Liberation Serif">e</text><text x="251.3" y="986" font-size="13" text-anchor="middle" fill="#444" font-family="Liberation Serif">D</text><text x="251.3" y="1016" font-size="13" text-anchor="middle" fill="#444" font-family="Liberation Serif">C</text><text x="185.8" y="1075" font-size="12.5" text-anchor="middle" fill="#444" >甲</text><text x="274.2" y="1069" font-size="10.5" text-anchor="middle" fill="#444" >细胞分裂时期</text><text x="303" y="961.5" font-size="7" text-anchor="middle" fill="#444" font-family="Liberation Serif" font-weight="bold">mRNA</text><text x="302.6" y="972" font-size="10" text-anchor="middle" fill="#444" >相</text><text x="302.6" y="982" font-size="10" text-anchor="middle" fill="#444" >对</text><text x="302.6" y="992" font-size="10" text-anchor="middle" fill="#444" >含</text><text x="302.6" y="1002" font-size="10" text-anchor="middle" fill="#444" >量</text><text x="58.8" y="954.8" font-size="9.5" text-anchor="middle" fill="#555" font-weight="bold" stroke="#666" stroke-width="0.15">染</text><text x="58.8" y="964.4" font-size="9.5" text-anchor="middle" fill="#555" font-weight="bold" stroke="#666" stroke-width="0.15">色</text><text x="58.8" y="974.0" font-size="9.5" text-anchor="middle" fill="#555" font-weight="bold" stroke="#666" stroke-width="0.15">体</text><text x="58.8" y="983.5999999999999" font-size="9.5" text-anchor="middle" fill="#555" font-weight="bold" stroke="#666" stroke-width="0.15">与</text><text x="58.8" y="993.1999999999999" font-size="9.5" text-anchor="middle" fill="#555" font-weight="bold" stroke="#666" stroke-width="0.15">核</text><text x="61.6" y="1004.3" font-size="7" text-anchor="middle" fill="#444" font-family="Liberation Serif" font-weight="bold">DNA</text><text x="58.8" y="1015.0" font-size="9.5" text-anchor="middle" fill="#555" font-weight="bold" stroke="#666" stroke-width="0.15">数</text><text x="58.8" y="1024.4" font-size="9.5" text-anchor="middle" fill="#555" font-weight="bold" stroke="#666" stroke-width="0.15">量</text><text x="58.8" y="1033.8" font-size="9.5" text-anchor="middle" fill="#555" font-weight="bold" stroke="#666" stroke-width="0.15">比</text><path d="M 371.63 991.40 L 370.72 989.68 L 369.92 987.89 L 369.24 986.05 L 368.68 984.15 L 368.24 982.22 L 367.93 980.26 L 367.75 978.28 L 367.70 976.32 L 367.78 974.58 L 367.99 972.85 L 368.32 971.14 L 368.78 969.46 L 369.37 967.81 L 370.08 966.20 L 370.90 964.65 L 371.84 963.16 L 372.88 961.73 L 374.03 960.38 L 375.28 959.11 L 376.62 957.93 L 378.04 956.84 L 379.54 955.85 L 381.11 954.97 L 382.74 954.19 L 384.43 953.53 L 386.16 952.98 L 387.92 952.55 L 389.72 952.25 L 391.53 952.06 L 393.35 952.00 L 395.17 952.06 L 396.98 952.25 L 398.78 952.55 L 400.54 952.98 L 402.27 953.53 L 403.96 954.19 L 405.59 954.97 L 407.16 955.85 L 408.66 956.84 L 410.08 957.93 L 411.42 959.11 L 412.67 960.38 L 413.82 961.73 L 414.86 963.16 L 415.80 964.65 L 416.62 966.20 L 417.33 967.81 L 417.92 969.46 L 418.38 971.14 L 418.71 972.85 L 418.92 974.58 L 419.00 976.32 L 418.95 978.28 L 418.77 980.26 L 418.46 982.22 L 418.02 984.15 L 417.46 986.05 L 416.78 987.89 L 415.98 989.68 L 415.07 991.40 L 412.43 991.40 L 413.70 993.06 L 414.84 994.81 L 415.86 996.65 L 416.74 998.58 L 417.48 1000.57 L 418.08 1002.61 L 418.53 1004.70 L 418.83 1006.82 L 418.98 1008.95 L 418.98 1010.83 L 418.83 1012.45 L 418.52 1014.05 L 418.07 1015.63 L 417.46 1017.18 L 416.72 1018.69 L 415.83 1020.14 L 414.81 1021.53 L 413.67 1022.86 L 412.40 1024.11 L 411.02 1025.28 L 409.53 1026.36 L 407.95 1027.34 L 406.28 1028.23 L 404.53 1029.00 L 402.71 1029.66 L 400.84 1030.21 L 398.92 1030.64 L 396.97 1030.95 L 394.99 1031.14 L 393.00 1031.20 L 391.01 1031.14 L 389.03 1030.95 L 387.08 1030.64 L 385.16 1030.21 L 383.29 1029.66 L 381.47 1029.00 L 379.72 1028.23 L 378.05 1027.34 L 376.47 1026.36 L 374.98 1025.28 L 373.60 1024.11 L 372.33 1022.86 L 371.19 1021.53 L 370.17 1020.14 L 369.28 1018.69 L 368.54 1017.18 L 367.93 1015.63 L 367.48 1014.05 L 367.17 1012.45 L 367.02 1010.83 L 367.02 1008.95 L 367.17 1006.82 L 367.47 1004.70 L 367.92 1002.61 L 368.52 1000.57 L 369.26 998.58 L 370.14 996.65 L 371.16 994.81 L 372.30 993.06 L 373.57 991.40 Z" fill="none" stroke="#111" stroke-width="1.9"/><ellipse cx="469" cy="992" rx="25" ry="23.7" fill="none" stroke="#111" stroke-width="1.8"/><path d="M 526.24 990.50 L 525.35 988.65 L 524.57 986.74 L 523.92 984.77 L 523.38 982.74 L 522.97 980.69 L 522.69 978.60 L 522.53 976.49 L 522.51 974.49 L 522.61 972.77 L 522.84 971.06 L 523.20 969.36 L 523.68 967.70 L 524.29 966.07 L 525.01 964.49 L 525.86 962.96 L 526.81 961.48 L 527.88 960.08 L 529.04 958.75 L 530.31 957.50 L 531.66 956.33 L 533.10 955.26 L 534.61 954.29 L 536.19 953.42 L 537.83 952.66 L 539.53 952.00 L 541.27 951.47 L 543.05 951.05 L 544.85 950.74 L 546.67 950.56 L 548.50 950.50 L 550.33 950.56 L 552.15 950.74 L 553.95 951.05 L 555.73 951.47 L 557.47 952.00 L 559.17 952.66 L 560.81 953.42 L 562.39 954.29 L 563.90 955.26 L 565.34 956.33 L 566.69 957.50 L 567.96 958.75 L 569.12 960.08 L 570.19 961.48 L 571.14 962.96 L 571.99 964.49 L 572.71 966.07 L 573.32 967.70 L 573.80 969.36 L 574.16 971.06 L 574.39 972.77 L 574.49 974.49 L 574.47 976.49 L 574.31 978.60 L 574.03 980.69 L 573.62 982.74 L 573.08 984.77 L 572.43 986.74 L 571.65 988.65 L 570.76 990.50 L 567.80 990.50 L 568.75 992.34 L 569.58 994.25 L 570.30 996.23 L 570.90 998.27 L 571.37 1000.35 L 571.71 1002.47 L 571.92 1004.60 L 572.00 1006.75 L 571.95 1008.42 L 571.77 1010.01 L 571.45 1011.59 L 571.01 1013.14 L 570.45 1014.66 L 569.76 1016.14 L 568.95 1017.58 L 568.02 1018.96 L 566.99 1020.28 L 565.85 1021.53 L 564.60 1022.70 L 563.27 1023.80 L 561.85 1024.81 L 560.35 1025.72 L 558.78 1026.54 L 557.14 1027.26 L 555.46 1027.88 L 553.72 1028.39 L 551.95 1028.79 L 550.15 1029.07 L 548.33 1029.24 L 546.50 1029.30 L 544.67 1029.24 L 542.85 1029.07 L 541.05 1028.79 L 539.28 1028.39 L 537.54 1027.88 L 535.86 1027.26 L 534.22 1026.54 L 532.65 1025.72 L 531.15 1024.81 L 529.73 1023.80 L 528.40 1022.70 L 527.15 1021.53 L 526.01 1020.28 L 524.98 1018.96 L 524.05 1017.58 L 523.24 1016.14 L 522.55 1014.66 L 521.99 1013.14 L 521.55 1011.59 L 521.23 1010.01 L 521.05 1008.42 L 521.00 1006.75 L 521.08 1004.60 L 521.29 1002.47 L 521.63 1000.35 L 522.10 998.27 L 522.70 996.23 L 523.42 994.25 L 524.25 992.34 L 525.20 990.50 Z" fill="none" stroke="#111" stroke-width="1.9"/><ellipse cx="624.3" cy="987" rx="24.6" ry="23.7" fill="none" stroke="#111" stroke-width="1.8"/><line x1="422" y1="990.8" x2="435" y2="990.8" stroke="#666" stroke-width="1" stroke-dasharray="2 2"/><path d="M 440 990.8 L 434 988.3 L 434 993.3 Z" fill="#333"/><line x1="497.7" y1="989.7" x2="513.3" y2="989.7" stroke="#666" stroke-width="1" stroke-dasharray="2 2"/><path d="M 518.3 989.7 L 512.3 987.2 L 512.3 992.2 Z" fill="#333"/><line x1="574.6" y1="989.2" x2="589.3" y2="989.2" stroke="#666" stroke-width="1" stroke-dasharray="2 2"/><path d="M 594.3 989.2 L 588.3 986.7 L 588.3 991.7 Z" fill="#333"/><path d="M 375.8 983.7 L 381.4 970.4 L 384.7 984.1 Z" fill="#fff" stroke="#111" stroke-width="2.6" stroke-linejoin="round"/><path d="M 381.4 970.4 Q 382 962 388 958.6" stroke="#111" fill="none" stroke-linecap="round" stroke-linejoin="round" stroke-width="1.3"/><path d="M 393.9 961.2 L 389.8 981.5" stroke="#111" fill="none" stroke-linecap="round" stroke-linejoin="round" stroke-width="2"/><path d="M 391.5 973 L 389.8 981.5" stroke="#111" fill="none" stroke-linecap="round" stroke-linejoin="round" stroke-width="3.5"/><path d="M 392.4 963.4 L 394.2 959.7 L 396.1 963.4 Z" fill="#111"/><path d="M 397.6 983.3 L 402.7 971.5 L 407.5 981.8" stroke="#111" fill="none" stroke-linecap="round" stroke-linejoin="round" stroke-width="4.2"/><path d="M 398.3 959 Q 408 964 416 977.4" stroke="#111" fill="none" stroke-linecap="round" stroke-linejoin="round" stroke-width="1.6"/><path d="M 410 971 L 416 977.4" stroke="#111" fill="none" stroke-linecap="round" stroke-linejoin="round" stroke-width="3.6"/><path d="M 391 956.5 L 394 956 M 398 956 L 400 956" stroke="#111" fill="none" stroke-linecap="round" stroke-linejoin="round" stroke-width="1.2"/><path d="M 381.4 1011.3 L 375.5 1002.5 Q 377.5 1000 380 1003.5 Q 383 1000.5 384.3 1002.5 Z" fill="#fff" stroke="#111" stroke-width="2.4" stroke-linejoin="round"/><path d="M 381.4 1011.3 L 392.4 1026 M 392.4 1026 L 391.7 1013 M 398 1022.4 L 401 1012 M 414 1006 L 403 1023.5 M 377.7 1019.4 Q 382 1024 389.5 1026.8 M 401.3 1024.6 L 407.9 1020.2" stroke="#111" fill="none" stroke-linecap="round" stroke-linejoin="round" stroke-width="1.5"/><path d="M 391.7 1012 L 393.5 1005.5" stroke="#111" fill="none" stroke-linecap="round" stroke-linejoin="round" stroke-width="3.4"/><path d="M 397 1001.2 L 401.5 1012 L 406.5 1001" stroke="#111" fill="none" stroke-linecap="round" stroke-linejoin="round" stroke-width="4"/><path d="M 414 1005.5 L 410.5 1013" stroke="#111" fill="none" stroke-linecap="round" stroke-linejoin="round" stroke-width="3.5"/><path d="M 461.5 977.7 L 453.9 1000.4" stroke="#111" fill="none" stroke-linecap="round" stroke-linejoin="round" stroke-width="6"/><path d="M 461.2 978.5 L 454.2 999.6" stroke="#fff" stroke-width="1.6" stroke-linecap="round"/><path d="M 470.9 975.8 L 474.1 982.7" stroke="#111" fill="none" stroke-linecap="round" stroke-linejoin="round" stroke-width="4.5"/><path d="M 469.7 993.5 L 476 988.4" stroke="#111" fill="none" stroke-linecap="round" stroke-linejoin="round" stroke-width="4.2"/><path d="M 470.5 992.8 L 475.2 989.1" stroke="#fff" stroke-width="1.2" stroke-linecap="round"/><path d="M 459.6 1003.6 Q 472 1000.5 484.8 998.5" stroke="#111" fill="none" stroke-linecap="round" stroke-linejoin="round" stroke-width="5.2"/><circle cx="480.4" cy="979" r="3" fill="none" stroke="#999" stroke-width="1"/><circle cx="484.2" cy="990" r="3" fill="none" stroke="#999" stroke-width="1"/><circle cx="474.1" cy="1008.6" r="3" fill="none" stroke="#999" stroke-width="1"/><circle cx="451.4" cy="984.6" r="3" fill="none" stroke="#999" stroke-width="1"/><path d="M 540 955.5 L 548 955.5" stroke="#777" stroke-width="1.2" stroke-dasharray="1.5 1.5"/><path d="M 541.25 960.5 L 537.5 974.9 M 535 968.6 L 540.6 960.5" stroke="#111" fill="none" stroke-linecap="round" stroke-linejoin="round" stroke-width="1.5"/><circle cx="541.3" cy="960.6" r="1.4" fill="#111"/><path d="M 545 958.6 Q 552 959.5 555 962.4 Q 558 967 558.75 973" stroke="#111" fill="none" stroke-linecap="round" stroke-linejoin="round" stroke-width="2.2"/><path d="M 557.3 981.5 Q 557.5 974.5 560.3 974.3 Q 563.3 974.5 563.5 980.5" stroke="#111" fill="none" stroke-linecap="round" stroke-linejoin="round" stroke-width="2.6"/><ellipse cx="543.4" cy="979.1" rx="5.6" ry="3.6" fill="#fff" stroke="#111" stroke-width="2.2"/><ellipse cx="536.2" cy="983.3" rx="3.2" ry="5.2" transform="rotate(25 536.2 983.3)" fill="#fff" stroke="#111" stroke-width="2.2"/><path d="M 538.5 976.5 L 541 983 M 542.5 977 L 546.5 979" stroke="#111" stroke-width="1.2"/><path d="M 536.25 1005.5 L 530 996.2 L 535 999 L 535 994.2 L 538.5 999 L 541.5 996 L 545.8 999.5 L 540 1004 Z" fill="#111" stroke="#111" stroke-width="1.6" stroke-linejoin="round"/><path d="M 536.25 1005.5 Q 540 1014 545 1021.1 M 558.75 1004.25 Q 556 1012 553.1 1021.1 M 535 1022.4 L 545 1026.1 M 537.5 1019.25 L 545 1023 M 552.5 1022.4 L 560.6 1014.9 M 552.5 1023.6 L 560 1021.1" stroke="#111" fill="none" stroke-linecap="round" stroke-linejoin="round" stroke-width="1.5"/><path d="M 555 997 Q 556 1002 558.75 1004 Q 562 1002 564 997" stroke="#111" fill="none" stroke-linecap="round" stroke-linejoin="round" stroke-width="2.2"/><circle cx="555.6" cy="997" r="1.6" fill="#111"/><circle cx="563.2" cy="997" r="1.6" fill="#111"/><path d="M 546 1024.6 L 546.5 1014 L 548.5 1016 L 549.5 1012.4 L 551.9 1024.9 Z" fill="#111" stroke="#111" stroke-width="1.4" stroke-linejoin="round"/><path d="M 610.8 979.6 L 637.3 984" stroke="#111" fill="none" stroke-linecap="round" stroke-linejoin="round" stroke-width="5.5"/><path d="M 616 989.2 L 632.9 974.5" stroke="#111" fill="none" stroke-linecap="round" stroke-linejoin="round" stroke-width="5.5"/><path d="M 612.5 979.9 L 635.6 983.7 M 617.5 987.9 L 631.4 975.8" stroke="#fff" stroke-width="1.6" stroke-linecap="round"/><path d="M 623.5 1003 L 626.7 994.5 L 629.8 1003" stroke="#111" fill="none" stroke-linecap="round" stroke-linejoin="round" stroke-width="2.6"/><text x="395.6" y="1050" font-size="13" text-anchor="middle" font-family="Liberation Serif" font-weight="bold" fill="#111">I</text><text x="467" y="1049.5" font-size="13" text-anchor="middle" font-family="Liberation Serif" font-weight="bold" fill="#111">II</text><text x="546.9" y="1050.5" font-size="13" text-anchor="middle" font-family="Liberation Serif" font-weight="bold" fill="#111">III</text><text x="623.9" y="1047" font-size="13" text-anchor="middle" font-family="Liberation Serif" font-weight="bold" fill="#111">IV</text><text x="512.9" y="1076" font-size="16" text-anchor="middle" fill="#222" font-weight="bold">乙</text></svg><div class="t" style="top:410.0px;">（<span class="L">1</span>）图甲所示细胞所处的分裂时期是<span class="u" style="width:48px"></span>，分裂产生的子细胞的基因型是<span class="u" style="width:75px"></span>。</div><div class="t" style="top:444.4px;">（<span class="L">2</span>）图丙所示细胞名称为<span class="u" style="width:72px"></span>，细胞内有<span class="u" style="width:93px"></span>染色体组。</div><div class="t" style="top:478.4px;">（<span class="L">3</span>）图丁所示过程中姐妹染色单体的分离对应的时期是<span class="u" style="width:57px"></span>（用字母表示）。</div><div class="t" style="top:513.2px;">（<span class="L">4</span>）若图乙细胞分裂完成后形成了基因型为<span class="L"> AaB </span>的子细胞，其原因最可能是<span class="u" style="width:87px"></span>。</div><div class="t" style="top:546.2px;left:46.5px;"><span class="n"><span class="L n">10</span>．（<span class="L n">14</span><span style="margin-left:3.5px">分</span><span style="margin-right:-2.2px">）</span></span>完成下面的概念图。</div><div class="ab" style="left:45.5px;top:764px">A</div><div class="ul" style="left:57px;width:159.7px;top:779.5px"></div><div class="ab" style="left:233.5px;top:764px">B</div><div class="ul" style="left:244.6px;width:192.4px;top:779.5px"></div><div class="ab" style="left:436px;top:764px">C</div><div class="ul" style="left:448.7px;width:159.2px;top:779.5px"></div><div class="ab" style="left:607.5px;top:764px">D</div><div class="ul" style="left:621px;width:157.70000000000005px;top:779.5px"></div><div class="ab" style="left:796px;top:764px">E</div><div class="ul" style="left:808px;width:92px;top:779.5px"></div><div class="ul" style="left:45.8px;width:99.8px;top:816.8px"></div><div class="ab" style="left:145.2px;top:801.5px">F</div><div class="ul" style="left:156.2px;width:157.40000000000003px;top:816.8px"></div><div class="ab" style="left:314.5px;top:801.5px">G</div><div class="ul" style="left:328px;width:167.2px;top:816.8px"></div><div class="ab" style="left:508px;top:801.5px">H</div><div class="ul" style="left:522px;width:159.10000000000002px;top:816.8px"></div><div class="t" style="top:835.3px;"><span class="n"><span class="L n">11</span>．（<span class="L n">14</span><span style="margin-left:3.5px">分</span><span style="margin-right:-2.2px">）</span></span>某高等动物体内的细胞分裂过程可用下图来表示。其中图甲表示细胞分裂各阶段染色体数与核<span class="L"> DNA </span>数</div><div class="t" style="top:872.9px;">的比例关系（用实线表示）和细胞质中<span class="L"> mRNA </span>含量的变化（用虚线表示），图乙表示该动物（基因型为<span class="L"> AaBb</span>）某一</div><div class="t" style="top:909.5px;">器官内细胞分裂图像和染色体数目变化曲线，请据图回答：</div><div class="t" style="top:1102.3px;">（<span class="L">1</span>）由图可知该动物体内一个正处于有丝分裂后期的细胞中的染色体数为<span class="u" style="width:115px"></span>条。从分子水平看图甲中<span class="L"> b</span></div><div class="t" style="top:1139.4px;">时期主要发生的变化是<span class="u" style="width:116px"></span>，<span class="L">de </span>时期，<span class="L">mRNA </span>不能合成的原因是<span class="u" style="width:116px"></span>；转录发生在图甲中的<span class="L">_</span></div><div class="t" style="top:1177.0px;"><span class="u" style="width:108px"></span>时期（填字母代号）。</div><div class="t" style="top:1209.8px;">（<span class="L">2</span>）该动物的性别是<span class="u" style="width:116px"></span>，图中<span class="L n" style="display:inline-block;width:16.75px;text-align:center;text-align-last:center;vertical-align:top;font-size:18px">I</span>细胞和<span class="L n" style="display:inline-block;width:16.75px;text-align:center;text-align-last:center;vertical-align:top;font-size:18px;letter-spacing:-0.6px">III</span>细胞依次叫做<span class="u" style="width:99px"></span><span style="display:inline-block;width:12px;overflow:hidden;vertical-align:top">、</span><span class="u" style="width:98px"></span><span style="display:inline-block;width:12.5px;overflow:hidden;vertical-align:top">。</span>基因重组发生在<span class="L">_</span></div></body></html>
